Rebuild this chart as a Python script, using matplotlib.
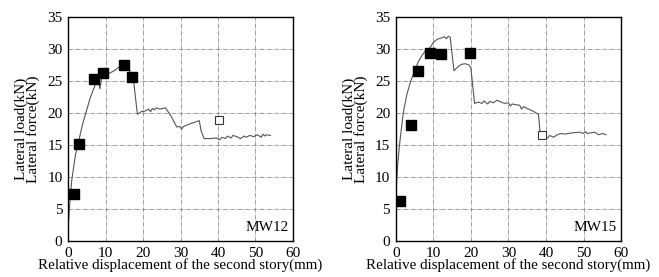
import matplotlib
matplotlib.use('Agg')
import matplotlib.pyplot as plt

plt.rcParams['font.family'] = ['Liberation Serif', 'DejaVu Serif']

# MW12 曲线
mw12_x = [0, 0.5, 1.0, 1.5, 2.0, 3.0, 4.0, 5.0, 6.0, 7.0, 7.5, 8.0, 8.5, 9.0, 10.0, 11.0, 12.0,
          13.0, 14.0, 15.0, 15.8, 16.5, 17.5, 18.5, 19.5, 20.5, 21.5, 22.0, 22.5, 23.0, 23.5,
          24.5, 26.0, 27.5, 29.0, 29.8, 30.3, 30.8, 31.3, 32.5, 34.0, 35.0, 35.5, 36.3, 38.0,
          39.5, 40.5, 41.0, 42.0, 42.5, 43.5, 44.0, 45.0, 46.0, 47.0, 47.5, 48.5, 49.5, 50.5,
          51.5, 52.0, 52.5, 53.0, 54.0]
mw12_y = [2.0, 6.0, 9.5, 11.5, 13.5, 16.0, 18.5, 20.5, 22.5, 24.0, 24.8, 25.2, 23.8, 25.5, 26.0,
          26.2, 26.5, 26.9, 27.4, 27.6, 27.3, 26.6, 25.0, 19.8, 20.2, 20.3, 20.6, 20.2, 20.7,
          20.5, 20.8, 20.6, 20.8, 19.5, 17.8, 17.9, 17.5, 17.9, 18.0, 18.3, 18.6, 18.8, 17.2,
          16.0, 16.0, 16.1, 15.8, 16.2, 16.0, 16.4, 16.1, 16.5, 16.3, 16.0, 16.4, 16.2, 16.5,
          16.3, 16.6, 16.2, 16.7, 16.4, 16.6, 16.5]
mw12_fx = [1.5, 2.8, 6.8, 9.2, 14.9, 17.0]
mw12_fy = [7.3, 15.1, 25.3, 26.2, 27.5, 25.6]
mw12_ox = [40.2]
mw12_oy = [18.9]

# MW15 曲线
mw15_x = [0, 0.3, 0.6, 1.0, 1.5, 2.0, 3.0, 4.0, 5.0, 6.0, 7.0, 8.0, 9.0, 10.0, 11.0, 12.0, 13.0,
          13.5, 14.0, 14.5, 15.5, 16.5, 17.5, 18.5, 19.5, 20.0, 21.0, 22.0, 23.0, 23.5, 24.5,
          25.0, 26.0, 27.0, 28.0, 29.0, 30.0, 30.5, 31.0, 32.0, 33.0, 33.5, 34.0, 35.0, 36.5,
          38.0, 38.5, 39.5, 40.5, 41.0, 42.0, 43.0, 44.0, 45.0, 47.0, 49.0, 50.0, 50.5, 51.0,
          52.0, 53.0, 54.0, 55.0, 56.0]
mw15_y = [6.0, 10.0, 12.5, 15.0, 17.5, 20.0, 23.0, 25.0, 26.5, 28.0, 29.0, 29.8, 30.1, 31.0,
          31.5, 31.7, 31.9, 31.6, 32.0, 31.8, 26.6, 27.2, 27.6, 27.7, 27.5, 27.0, 21.5, 21.7,
          21.5, 21.9, 21.4, 21.8, 21.6, 22.0, 21.7, 21.5, 21.6, 21.1, 21.4, 21.3, 21.2, 20.6,
          21.0, 20.7, 20.3, 19.8, 16.5, 16.3, 16.1, 16.5, 16.2, 16.6, 16.8, 16.7, 16.9, 17.0,
          16.8, 17.1, 16.8, 16.9, 17.0, 16.6, 16.8, 16.6]
mw15_fx = [1.2, 4.0, 6.0, 9.1, 12.1, 19.7]
mw15_fy = [6.2, 18.2, 26.5, 29.4, 29.2, 29.4]
mw15_ox = [39.0]
mw15_oy = [16.5]

fig = plt.figure(figsize=(6.59, 2.77), dpi=100)
ax1 = fig.add_axes([0.1032, 0.130, 0.3414, 0.8087])
ax2 = fig.add_axes([0.6005, 0.130, 0.3420, 0.8087])

panels = [
    (ax1, mw12_x, mw12_y, mw12_fx, mw12_fy, mw12_ox, mw12_oy, 'MW12'),
    (ax2, mw15_x, mw15_y, mw15_fx, mw15_fy, mw15_ox, mw15_oy, 'MW15'),
]

for ax, x, y, fx, fy, ox, oy, name in panels:
    ax.plot(x, y, color='#555555', lw=0.8, zorder=2)
    ax.plot(fx, fy, 's', color='black', ms=6.5, zorder=3)
    ax.plot(ox, oy, 's', mfc='white', mec='#333333', mew=0.8, ms=6, zorder=3)
    ax.set_xlim(0, 60)
    ax.set_ylim(0, 35)
    ax.set_xticks(range(0, 61, 10))
    ax.set_yticks(range(0, 36, 5))
    ax.grid(True, color='#777777', ls='-.', lw=0.5)
    ax.tick_params(length=0, labelsize=11, pad=4)
    for s in ax.spines.values():
        s.set_linewidth(1.0)
    ax.set_xlabel('Relative displacement of the second story(mm)', fontsize=10.8, labelpad=-1)
    ax.set_ylabel('Lateral load(kN)\nLateral force(kN)', fontsize=11, labelpad=5,
                  linespacing=0.85)
    ax.text(0.98, 0.03, name, transform=ax.transAxes, ha='right', va='bottom', fontsize=11)

fig.savefig('out.png', dpi=100)
